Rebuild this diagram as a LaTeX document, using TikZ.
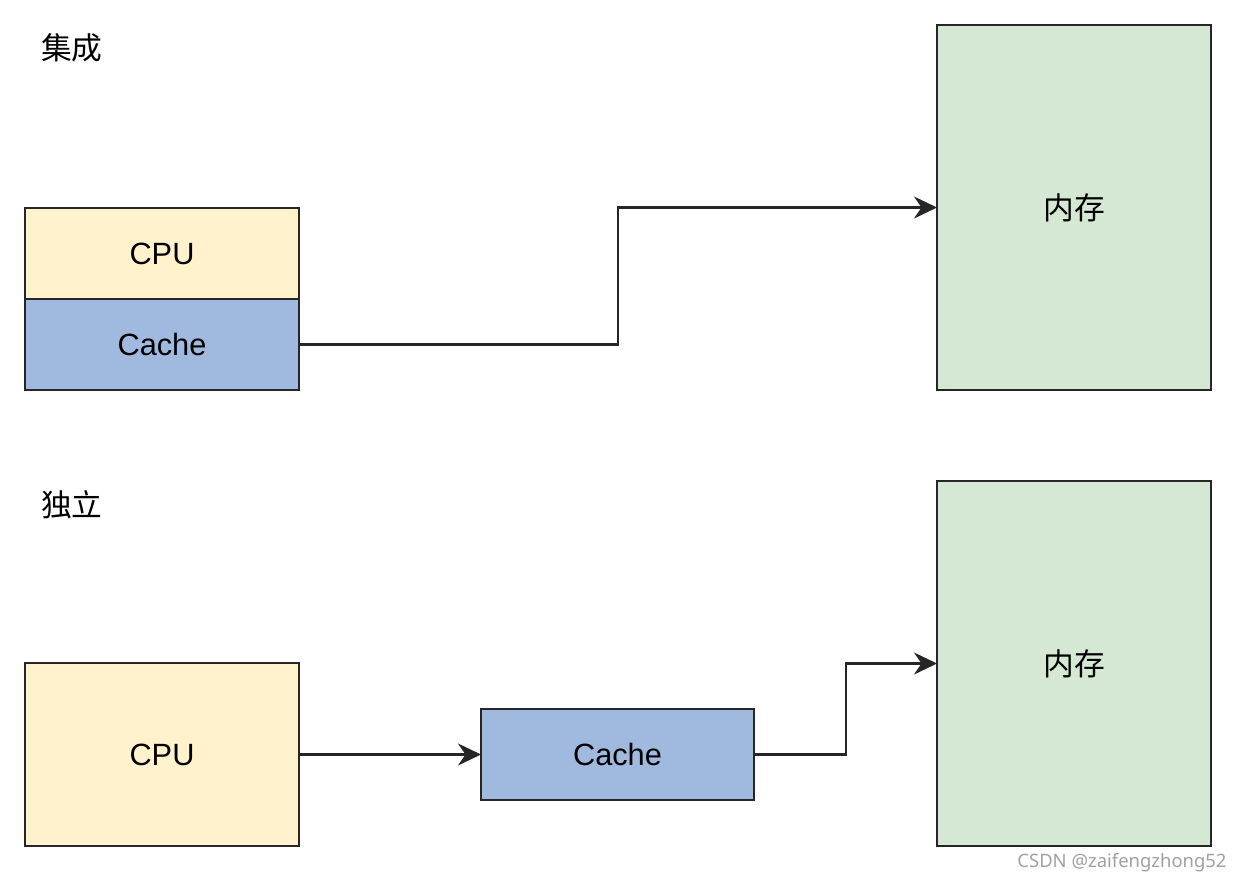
\documentclass[tikz,border=0pt]{standalone}
\usepackage{fontspec}
\setmainfont{Liberation Sans}
\newfontfamily\cjk{Noto Sans CJK SC}
\newfontfamily\marksans{Noto Sans}
\usepackage{tikz}
\usetikzlibrary{arrows.meta,positioning}
\definecolor{cpuyellow}{HTML}{FFF2CC}
\definecolor{cacheblue}{HTML}{A0B9DF}
\definecolor{memgreen}{HTML}{D5E8D4}
\definecolor{markgray}{HTML}{A0A0A0}

\begin{document}
\begin{tikzpicture}[
  unit/.style={draw=black!85, line width=1.2pt, inner sep=0pt, outer sep=0pt,
               minimum width=5.48cm, font=\fontsize{17.5}{20}\selectfont},
  cpu/.style={unit, fill=cpuyellow},
  cache/.style={unit, fill=cacheblue},
  memory/.style={unit, fill=memgreen, minimum height=7.30cm,
                 font=\fontsize{17.5}{20}\selectfont\cjk},
  heading/.style={anchor=west, font=\fontsize{17.5}{20}\selectfont\cjk},
  arrow/.style={-{Stealth[length=4.6mm, width=4.4mm, inset=1.5mm]},
                line width=1.3pt, draw=black!85},
  note/.style={font=\fontsize{10.5}{12}\selectfont\marksans, text=markgray},
]
  \useasboundingbox (0,0) rectangle (24.88,-17.70);

  % Integrated: cache sits inside the processor block.
  \node[heading] (integrated) at (0.70,-0.96) {集成};
  \node[cpu, minimum height=1.82cm] (cpu-in) at (3.24,-5.07) {CPU};
  \node[cache, minimum height=1.82cm, below=0pt of cpu-in] (cache-in) {Cache};
  \node[memory] (mem-in) at (21.48,-4.15) {内存};
  \draw[arrow] (cache-in.east) -- ++(6.38,0) |- (mem-in.west);

  % Separate: cache is its own block between processor and memory.
  \node[heading] (separate) at (0.70,-10.10) {独立};
  \node[cpu, minimum height=3.66cm] (cpu-ex) at (3.24,-15.09) {CPU};
  \node[cache, minimum width=5.46cm, minimum height=1.82cm] (cache-ex) at (12.35,-15.09) {Cache};
  \node[memory] (mem-ex) at (21.48,-13.27) {内存};
  \draw[arrow] (cpu-ex.east) -- (cache-ex.west);
  \draw[arrow] (cache-ex.east) -- ++(1.84,0) |- (mem-ex.west);

  \node[note] (mark) at (22.44,-17.26) {CSDN @zaifengzhong52};
\end{tikzpicture}
\end{document}
